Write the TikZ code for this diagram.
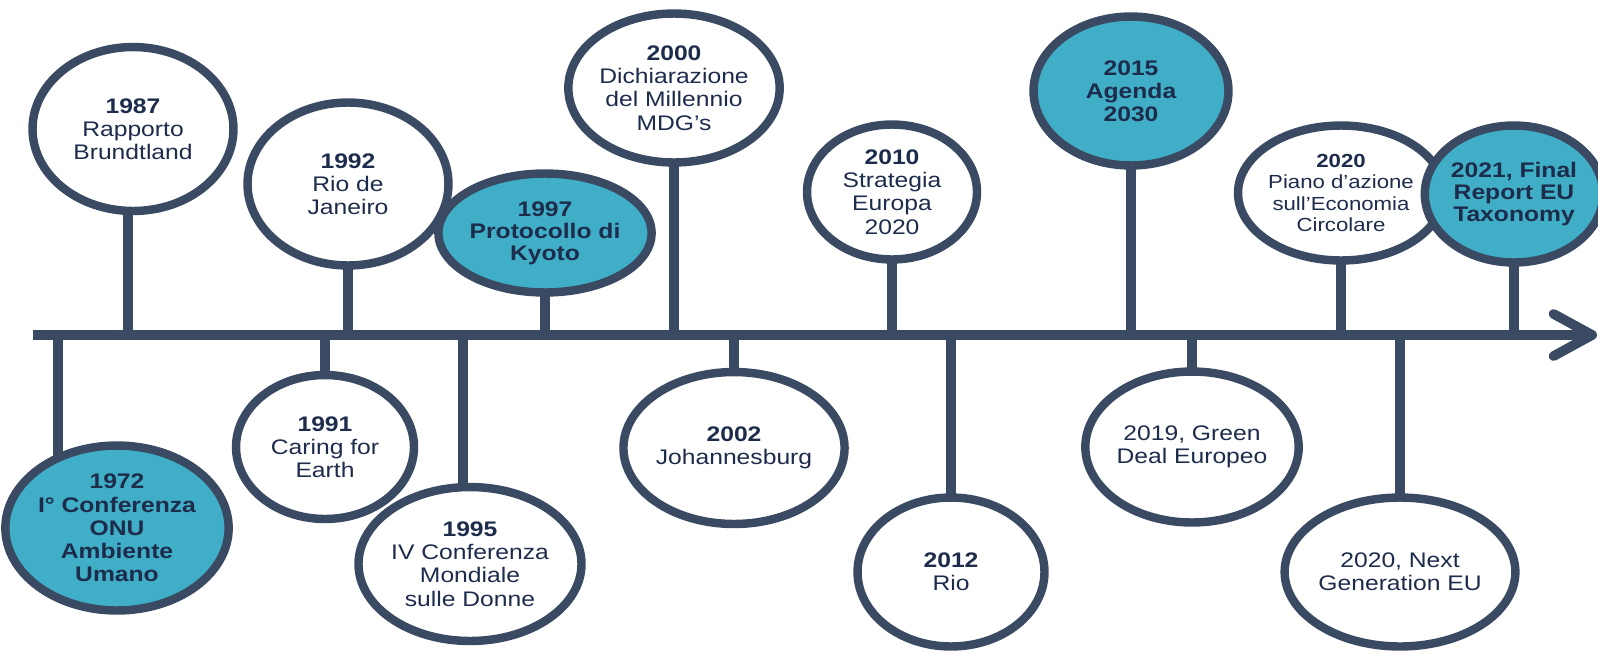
\documentclass[tikz,border=0pt]{standalone}
\usepackage{fontspec}
\setmainfont[FakeStretch=1.17]{Liberation Sans}
\usetikzlibrary{shapes.geometric,arrows.meta,backgrounds}
\definecolor{rimblue}{HTML}{3B4A63}
\definecolor{keyteal}{HTML}{3FAEC6}
\definecolor{inkblue}{HTML}{1E2C4C}

\begin{document}
\begin{tikzpicture}[x=0.02cm, y=-0.02cm,
    event/.style={ellipse, draw=rimblue, line width=4.8pt, fill=white, inner sep=0pt, align=center, text=inkblue, font=\fontsize{12}{13.2}\selectfont},
    keyevent/.style={event, fill=keyteal, font=\fontsize{12}{13.2}\selectfont\bfseries},
    stem/.style={draw=rimblue, line width=6pt},
    axis/.style={draw=rimblue, line width=5.5pt, -{Straight Barb[length=22pt, width=24pt, round]}}
]
\useasboundingbox (0,0) rectangle (1598,653);

% Timeline
\coordinate (tl0) at (33,335);
\coordinate (tl1) at (1597,335);

% Events above the line
\node[event, minimum width=4.02cm, minimum height=3.28cm] (e1987) at (133,129) {\textbf{1987}\\Rapporto\\Brundtland};
\node[event, minimum width=4.02cm, minimum height=3.26cm] (e1992) at (348,184) {\textbf{1992}\\Rio de\\Janeiro};
\node[keyevent, minimum width=3.2cm, minimum height=2.38cm, font=\fontsize{12}{12.5}\selectfont\bfseries] (e1997) at (545,233) {1997\\Protocollo di\\Kyoto};
\node[event, minimum width=3.98cm, minimum height=2.98cm] (e2000) at (674,88) {\textbf{2000}\\Dichiarazione\\del Millennio\\MDG’s};
\node[event, minimum width=3.4cm, minimum height=2.7cm] (e2010) at (892,192) {\textbf{2010}\\Strategia\\Europa\\2020};
\node[keyevent, minimum width=3.9cm, minimum height=2.98cm] (e2015) at (1131,91) {2015\\Agenda\\2030};
\node[event, minimum width=3.3cm, minimum height=2.7cm, font=\fontsize{10.8}{12}\selectfont] (e2020a) at (1341,193) {\textbf{2020}\\Piano d’azione\\sull’Economia\\Circolare};
\node[keyevent, minimum width=3.12cm, minimum height=2.74cm, font=\fontsize{12}{12.7}\selectfont\bfseries] (e2021) at (1514,194) {2021, Final\\Report EU\\Taxonomy};

% Events below the line
\node[keyevent, minimum width=4.06cm, minimum height=3.3cm] (e1972) at (117,528) {1972\\I° Conferenza\\ONU\\Ambiente\\Umano};
\node[event, minimum width=3.56cm, minimum height=2.88cm] (e1991) at (325,447) {\textbf{1991}\\Caring for\\Earth};
\node[event, minimum width=4.36cm, minimum height=3.08cm] (e1995) at (470,564) {\textbf{1995}\\IV Conferenza\\Mondiale\\sulle Donne};
\node[event, minimum width=3.7cm, minimum height=3.04cm] (e2002) at (734,448) {\textbf{2002}\\Johannesburg};
\node[event, minimum width=3.74cm, minimum height=2.98cm] (e2012) at (951,572) {\textbf{2012}\\Rio};
\node[event, minimum width=3.58cm, minimum height=3.02cm] (e2019) at (1192,447) {2019, Green\\Deal Europeo};
\node[event, minimum width=3.58cm, minimum height=2.98cm] (e2020b) at (1400,572) {2020, Next\\Generation EU};

% Stems and arrow behind the circles
\begin{scope}[on background layer]
\draw[axis] (tl0) -- (tl1);
\coordinate (k1972) at (58,335);
\draw[stem] (k1972) -- (k1972 |- e1972.center);
\draw[stem] ([xshift=-0.1cm]e1987.center) -- ([xshift=-0.1cm]e1987.center |- tl0);
\draw[stem] ([xshift=-0.14cm]e1995.center) -- ([xshift=-0.14cm]e1995.center |- tl0);
\foreach \ev in {e1992,e1997,e2000,e2010,e2015,e2020a,e2021,e1991,e2002,e2012,e2019,e2020b}
  \draw[stem] (\ev.center) -- (\ev.center |- tl0);
\end{scope}

\end{tikzpicture}
\end{document}
